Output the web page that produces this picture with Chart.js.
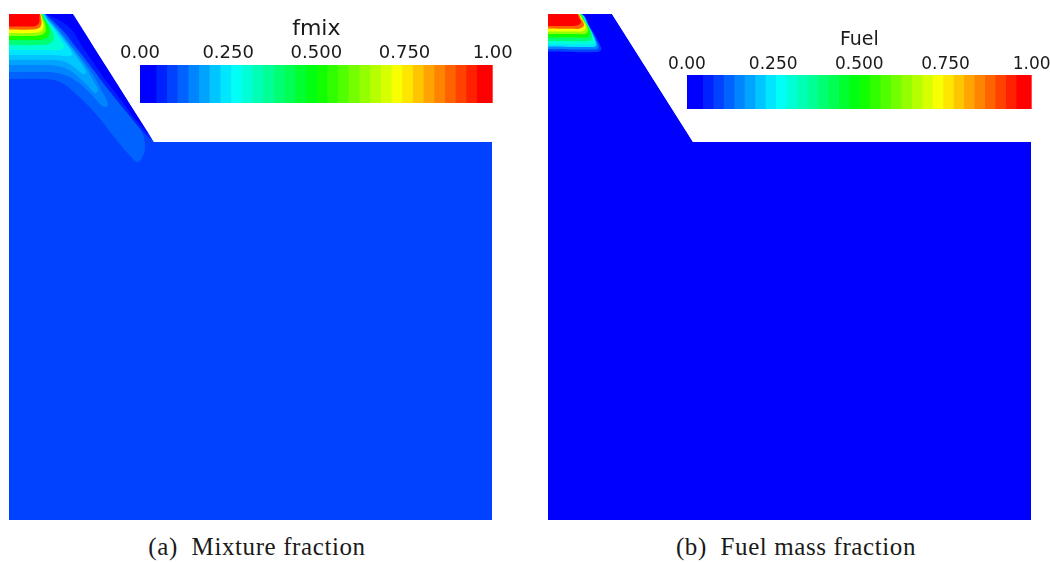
<!DOCTYPE html>
<html>
<head>
<meta charset="utf-8">
<title>Mixture fraction and fuel mass fraction</title>
<script src="https://cdn.jsdelivr.net/npm/chart.js"></script>
<style>
  body { margin: 0; background: #fff; width: 1050px; height: 562px; overflow: hidden; position: relative; }
  canvas { position: absolute; }
  .caption {
    position: absolute; width: 400px; text-align: center; white-space: pre;
    font-family: "Liberation Serif", "DejaVu Serif", serif; font-size: 25px; line-height: 24px;
    letter-spacing: 0.6px; color: #1a1a1a;
  }
</style>
</head>
<body>
<canvas id="fieldA" width="483" height="506" style="left:9px;top:14px"></canvas>
<canvas id="fieldB" width="483" height="506" style="left:548px;top:14px"></canvas>
<canvas id="barA" width="440" height="93" style="left:100px;top:10px"></canvas>
<canvas id="barB" width="420" height="89" style="left:640px;top:20px"></canvas>
<div class="caption" style="left:57px;top:535px">(a)  Mixture fraction</div>
<div class="caption" style="left:596px;top:535px">(b)  Fuel mass fraction</div>
<script>
// ---- geometry (r, z) in cm, z measured downward from the inlet plane ----
const domainOutline = [[0, 0], [6.4, 0], [14.5, 12.8], [48.3, 12.8], [48.3, 50.6], [0, 50.6]];
// region above the step and right of the cone wall (outside the mesh)
const outsideRegion = [[5.77, -1], [14.5, 12.8], [49, 12.8], [49, -1]];

// ---- mixture fraction contour patches (colour level of each in fmixLevels) ----
const fmixP3 = [[0, 0], [3.55, 0], [4.1, 0.3], [5.8, 1.6], [7.8, 3.6], [9.8, 6.3], [11.8, 9.4], [13.2, 11.6], [13.6, 13.1], [13.4, 14.2], [12.9, 14.8], [12.3, 14.4], [10.6, 12.4], [8.6, 9.9], [6.6, 7.9], [5.1, 6.8], [3.6, 6.5], [0, 6.5]];
const fmixP1 = [[3.6, 0], [6.4, 0], [8.4, 3.2], [10.4, 6.3], [12.4, 9.5], [14.3, 12.5], [13.6, 12.0], [11.9, 10.0], [9.8, 7.4], [8.0, 5.0], [6.6, 3.2], [5.6, 1.9], [4.4, 0.7]];
const fmixP0 = [[3.7, 0], [6.4, 0], [8.4, 3.2], [10.4, 6.3], [12.4, 9.5], [14.0, 12.0], [12.6, 10.5], [11.2, 8.6], [9.8, 6.8], [8.4, 4.8], [7.1, 2.9], [6.2, 1.5], [5.0, 0.6]];
const fmixP4 = [[0, 0], [3.5, 0], [4.0, 0.5], [5.0, 1.6], [6.4, 3.4], [8.1, 5.6], [9.4, 7.9], [9.9, 9.0], [9.6, 9.3], [9.1, 9.0], [7.9, 7.7], [6.4, 6.5], [4.8, 5.9], [3.2, 5.8], [0, 5.8]];
const fmixP5 = [[0, 0], [3.45, 0], [3.9, 0.5], [4.8, 1.5], [6.0, 3.0], [7.4, 4.9], [8.5, 6.8], [8.9, 7.6], [8.6, 7.9], [7.5, 6.8], [6.0, 5.6], [4.5, 5.15], [3.0, 5.1], [0, 5.1]];
const fmixP6 = [[0, 0], [3.4, 0], [3.8, 0.5], [4.6, 1.4], [5.7, 2.8], [6.9, 4.5], [7.7, 5.8], [7.4, 6.0], [6.5, 5.3], [5.3, 4.7], [3.8, 4.6], [0, 4.6]];
const fmixP7 = [[0, 0], [3.35, 0], [3.75, 0.5], [4.5, 1.4], [5.4, 2.6], [6.3, 3.9], [6.1, 4.2], [5.0, 4.15], [3.6, 4.1], [0, 4.1]];
const fmixP9 = [[0, 0], [3.3, 0], [3.7, 0.5], [4.3, 1.3], [5.0, 2.4], [5.5, 3.3], [5.0, 3.6], [3.5, 3.6], [0, 3.6]];
const fmixP12 = [[0, 0], [3.25, 0], [3.6, 0.5], [4.15, 1.35], [4.5, 2.4], [4.1, 2.95], [3.0, 3.1], [0, 3.1]];
const fmixP16 = [[0, 0], [3.2, 0], [3.5, 0.5], [3.95, 1.3], [4.0, 2.1], [3.5, 2.5], [2.5, 2.6], [0, 2.6]];
const fmixP20 = [[0, 0], [3.15, 0], [3.4, 0.5], [3.65, 1.2], [3.6, 1.85], [3.0, 2.15], [2.0, 2.2], [0, 2.2]];
const fmixP23 = [[0, 0], [3.1, 0], [3.3, 0.5], [3.45, 1.1], [3.3, 1.65], [2.6, 1.88], [0, 1.9]];
const fmixP28 = [[0, 0], [3.05, 0], [3.2, 0.4], [3.25, 0.95], [3.0, 1.4], [2.2, 1.55], [0, 1.55]];
const fmixP31 = [[0, 0], [3.0, 0], [3.05, 0.4], [3.0, 0.9], [2.6, 1.2], [1.8, 1.25], [0, 1.25]];
const fmixBackground = 2;
const fmixLevels = [3, 1, 0, 4, 5, 6, 7, 9, 12, 16, 20, 23, 28, 31];
const fmixPatches = [fmixP3, fmixP1, fmixP0, fmixP4, fmixP5, fmixP6, fmixP7, fmixP9, fmixP12, fmixP16, fmixP20, fmixP23, fmixP28, fmixP31];

// ---- fuel mass fraction contour patches ----
const fuelP2 = [[0, 0], [3.35, 0], [4.2, 1.3], [5.1, 2.9], [5.3, 3.6], [4.6, 3.8], [0, 3.75]];
const fuelP4 = [[0, 0], [3.3, 0], [4.1, 1.2], [4.9, 2.8], [5.0, 3.45], [4.2, 3.55], [0, 3.5]];
const fuelP7 = [[0, 0], [3.25, 0], [4.0, 1.1], [4.7, 2.6], [4.8, 3.2], [4.0, 3.3], [0, 3.25]];
const fuelP9 = [[0, 0], [3.2, 0], [3.9, 1.0], [4.6, 2.4], [4.6, 2.95], [3.8, 3.05], [0, 3.0]];
const fuelP12 = [[0, 0], [3.15, 0], [3.8, 0.9], [4.4, 2.1], [4.3, 2.6], [3.5, 2.7], [0, 2.7]];
const fuelP16 = [[0, 0], [3.1, 0], [3.7, 0.8], [4.2, 1.8], [4.0, 2.3], [3.2, 2.35], [0, 2.35]];
const fuelP20 = [[0, 0], [3.05, 0], [3.6, 0.7], [4.0, 1.5], [3.8, 1.95], [3.0, 2.0], [0, 2.0]];
const fuelP23 = [[0, 0], [3.0, 0], [3.45, 0.6], [3.8, 1.3], [3.5, 1.7], [2.8, 1.75], [0, 1.75]];
const fuelP28 = [[0, 0], [2.95, 0], [3.3, 0.5], [3.6, 1.1], [3.2, 1.45], [2.4, 1.48], [0, 1.45]];
const fuelP31 = [[0, 0], [2.9, 0], [3.1, 0.4], [3.3, 0.85], [2.9, 1.15], [1.5, 1.2], [0, 1.2]];
const fuelBackground = 0;
const fuelLevels = [2, 4, 7, 9, 12, 16, 20, 23, 28, 31];
const fuelPatches = [fuelP2, fuelP4, fuelP7, fuelP9, fuelP12, fuelP16, fuelP20, fuelP23, fuelP28, fuelP31];

// ---- colour legend ----
const levelCount = 32;
const tickValues = [0, 0.25, 0.5, 0.75, 1];
const tickLabels = ['0.00', '0.250', '0.500', '0.750', '1.00'];

// blue-to-red rainbow, one colour per discrete level
function levelColor(i) {
  const hue = 240 * (1 - i / (levelCount - 1));
  return `hsl(${hue.toFixed(1)}, 100%, 50%)`;
}

function polygon(points, color, tension) {
  return {
    data: points.map(([r, z]) => ({ x: r, y: z })),
    showLine: true,
    fill: 'shape',
    backgroundColor: color,
    borderColor: 'rgba(0,0,0,0)',
    borderWidth: 0,
    pointRadius: 0,
    tension: tension
  };
}

function fieldChart(id, background, levels, patches) {
  // bottom to top: mesh, contour patches, then the white region outside the mesh
  const layers = [polygon(domainOutline, levelColor(background), 0)];
  patches.forEach((p, i) => layers.push(polygon(p, levelColor(levels[i]), 0.4)));
  layers.push(polygon(outsideRegion, '#ffffff', 0));
  layers.forEach((ds, i) => { ds.order = layers.length - i; });

  new Chart(document.getElementById(id), {
    type: 'scatter',
    data: { datasets: layers },
    options: {
      responsive: false,
      animation: false,
      layout: { padding: 0 },
      plugins: { legend: { display: false }, tooltip: { enabled: false } },
      scales: {
        x: { type: 'linear', min: 0, max: 48.3, display: false },
        y: { type: 'linear', min: 0, max: 50.6, reverse: true, display: false }
      }
    }
  });
}

function colorBar(id, name, opts) {
  const edges = [];
  for (let i = 0; i <= levelCount; i++) {
    edges.push(i === 0 ? 0 : i === levelCount ? 1 : (i + 0.5) / (levelCount + 1));
  }
  const datasets = [];
  for (let i = 0; i < levelCount; i++) {
    datasets.push({
      data: [[edges[i], edges[i + 1]]],
      backgroundColor: levelColor(i),
      borderWidth: 0,
      grouped: false,
      barPercentage: 1,
      categoryPercentage: 1
    });
  }
  new Chart(document.getElementById(id), {
    type: 'bar',
    data: { labels: [name], datasets: datasets },
    options: {
      indexAxis: 'y',
      responsive: false,
      animation: false,
      layout: { padding: { left: opts.left, right: opts.right, top: 0, bottom: 0 } },
      plugins: { legend: { display: false }, tooltip: { enabled: false } },
      scales: {
        x: {
          type: 'linear', position: 'top', min: 0, max: 1,
          afterBuildTicks: axis => { axis.ticks = tickValues.map(v => ({ value: v })); },
          afterFit: axis => { axis.height = 55; },
          grid: { display: false, drawTicks: false },
          border: { display: false },
          ticks: {
            padding: opts.tickPad, color: '#1a1a1a', maxRotation: 0, autoSkip: false,
            font: { family: 'DejaVu Sans', size: opts.tickSize },
            callback: (v, i) => tickLabels[i]
          },
          title: {
            display: true, text: name, color: '#1a1a1a',
            font: { family: 'DejaVu Sans', size: opts.titleSize },
            padding: { top: opts.titlePad, bottom: 0 }
          }
        },
        y: { display: false }
      }
    }
  });
}

fieldChart('fieldA', fmixBackground, fmixLevels, fmixPatches);
fieldChart('fieldB', fuelBackground, fuelLevels, fuelPatches);
colorBar('barA', 'fmix', { left: 40, right: 47.3, tickSize: 18, tickPad: 1, titleSize: 22, titlePad: 6 });
colorBar('barB', 'Fuel', { left: 47, right: 28.3, tickSize: 17, tickPad: 0, titleSize: 19, titlePad: 9 });
</script>
</body>
</html>
